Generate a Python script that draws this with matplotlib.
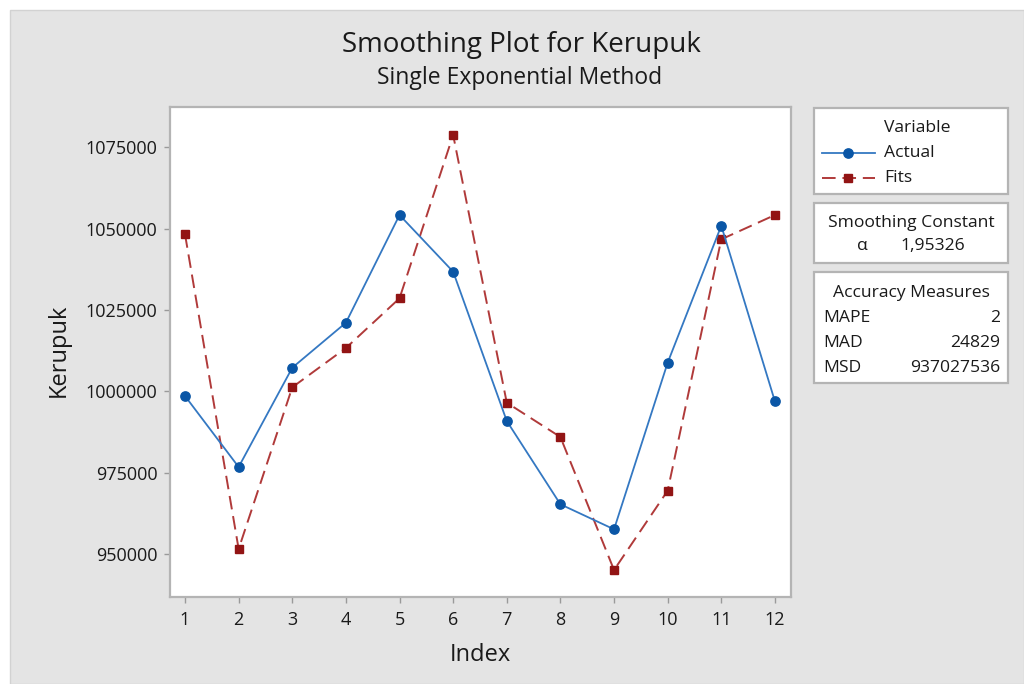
import numpy as np
import matplotlib
matplotlib.use("Agg")
import matplotlib.pyplot as plt
from matplotlib.patches import Rectangle
from matplotlib.lines import Line2D


plt.rcParams["font.family"] = ["Open Sans", "DejaVu Sans"]

# data
index = [1, 2, 3, 4, 5, 6, 7, 8, 9, 10, 11, 12]

actual = [998560, 976740, 1007260, 1021090, 1054190, 1036770,
          990880, 965280, 957590, 1008800, 1050900, 996930]

fits = [1048260, 951540, 1001240, 1013310, 1028590, 1078780,
        996500, 985960, 945080, 969460, 1046720, 1054190]

y_ticks = [950000, 975000, 1000000, 1025000, 1050000, 1075000]

alpha_text = "1,95326"
measure_names = ["MAPE", "MAD", "MSD"]
measure_values = ["2", "24829", "937027536"]

W, H = 1024, 684
BG = "#e4e4e4"
EDGE = "#b4b4b4"
TXT = "#1a1a1a"
BLUE_LINE = "#3478c2"
BLUE_MARK = "#0a56a6"
RED_LINE = "#b03a3a"
RED_MARK = "#921414"


def fx(x):
    return x / W


def fy(y):
    return 1 - y / H


fig = plt.figure(figsize=(W / 100, H / 100), dpi=100)
fig.patch.set_facecolor("white")

# grey panel behind everything, white strip on top and left
fig.add_artist(Rectangle((fx(10), 0), 1 - fx(10), fy(10),
                         transform=fig.transFigure, facecolor=BG,
                         edgecolor="#d2d2d2", linewidth=1, zorder=0))

ax = fig.add_axes([fx(170), fy(596.7), fx(791) - fx(170), fy(106.7) - fy(596.7)])
ax.set_facecolor("white")

ax.plot(index, actual, color=BLUE_LINE, linewidth=1.3, marker="o",
        markersize=6.7, markerfacecolor=BLUE_MARK, markeredgecolor=BLUE_MARK,
        zorder=3)
ax.plot(index, fits, color=RED_LINE, linewidth=1.4, dashes=(7, 3.5),
        marker="s", markersize=6.3, markerfacecolor=RED_MARK,
        markeredgecolor=RED_MARK, zorder=2)

ax.set_xlim(0.72, 12.3)
ax.set_ylim(936880, 1087480)
ax.set_xticks(index)
ax.set_yticks(y_ticks)
ax.set_yticklabels([str(v) for v in y_ticks])

for s in ax.spines.values():
    s.set_color(EDGE)
    s.set_linewidth(1.6)

ax.tick_params(axis="both", colors="#9a9a9a", length=4.5, width=1,
               labelcolor=TXT, labelsize=13)
ax.tick_params(axis="x", pad=6)
ax.tick_params(axis="y", pad=4.5)

# axis titles placed as figure text
fig.text(fx(480.5), fy(655), "Index", ha="center", va="center",
         fontsize=17, color=TXT)
fig.text(fx(59), fy(350), "Kerupuk", ha="center", va="center",
         rotation=90, fontsize=17, color=TXT)

fig.text(fx(521), fy(45), "Smoothing Plot for Kerupuk", ha="center",
         va="center", fontsize=20, color=TXT)
fig.text(fx(520), fy(78), "Single Exponential Method", ha="center",
         va="center", fontsize=16.5, color=TXT)


def box(x0, y0, x1, y1):
    fig.add_artist(Rectangle((fx(x0), fy(y1)), fx(x1) - fx(x0), fy(y0) - fy(y1),
                             transform=fig.transFigure, facecolor="white",
                             edgecolor=EDGE, linewidth=1.6, zorder=1))


box(814, 108, 1008, 194)
box(814, 203, 1008, 263)
box(814, 272, 1008, 383)

fs = 12.6
fig.text(fx(917), fy(128), "Variable", ha="center", va="center", fontsize=fs,
         color=TXT)

fig.add_artist(Line2D([fx(822), fx(875)], [fy(153), fy(153)],
                      transform=fig.transFigure, color=BLUE_LINE, linewidth=1.3))
fig.add_artist(Line2D([fx(848)], [fy(153)], transform=fig.transFigure,
                      marker="o", markersize=6.7, color=BLUE_MARK, linestyle="none"))
fig.text(fx(884), fy(153), "Actual", ha="left", va="center", fontsize=fs,
         color=TXT)

fig.add_artist(Line2D([fx(822), fx(875)], [fy(178), fy(178)],
                      transform=fig.transFigure, color=RED_LINE, linewidth=1.4,
                      dashes=(7, 3.5)))
fig.add_artist(Line2D([fx(848)], [fy(178)], transform=fig.transFigure,
                      marker="s", markersize=6.3, color=RED_MARK, linestyle="none"))
fig.text(fx(884), fy(178), "Fits", ha="left", va="center", fontsize=fs,
         color=TXT)

fig.text(fx(911), fy(223), "Smoothing Constant", ha="center", va="center",
         fontsize=fs, color=TXT)
fig.text(fx(862), fy(246), "α", ha="center", va="center", fontsize=fs,
         color=TXT)
fig.text(fx(965), fy(246), alpha_text, ha="right", va="center", fontsize=fs,
         color=TXT)

fig.text(fx(911), fy(293), "Accuracy Measures", ha="center", va="center",
         fontsize=fs, color=TXT)
row_y = [318, 343, 368]
for name, val, yy in zip(measure_names, measure_values, row_y):
    fig.text(fx(823), fy(yy), name, ha="left", va="center", fontsize=fs,
             color=TXT)
    fig.text(fx(1000), fy(yy), val, ha="right", va="center", fontsize=fs,
             color=TXT)

plt.savefig("out.png", dpi=100, facecolor=fig.get_facecolor())
plt.close()
